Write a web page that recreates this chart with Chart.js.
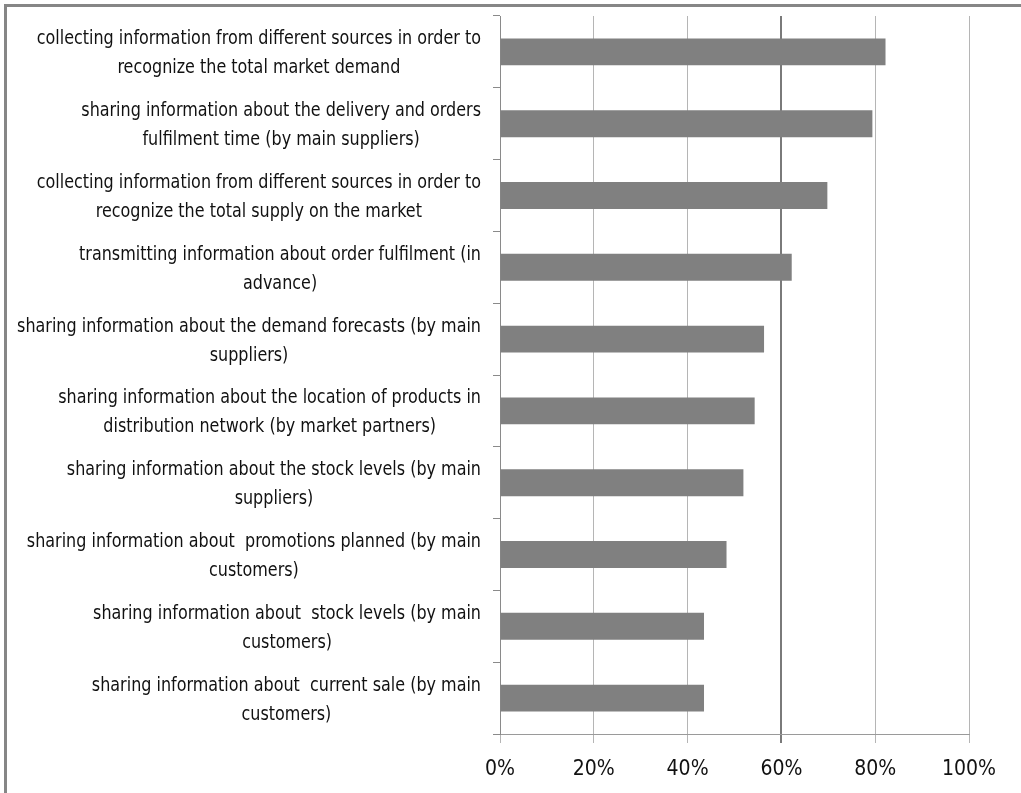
<!DOCTYPE html>
<html>
<head>
<meta charset="utf-8">
<script src="https://cdn.jsdelivr.net/npm/chart.js@4.4.1/dist/chart.umd.min.js"></script>
<style>
  html, body { margin: 0; padding: 0; background: #fff; }
  #wrap { position: relative; width: 1021px; height: 793px; }
  #frame { position: absolute; left: 4px; top: 4px; right: -10px; bottom: -10px;
           border-top: 3px solid #868686; border-left: 3px solid #868686; pointer-events: none; }
</style>
</head>
<body>
<div id="wrap">
  <canvas id="chart" width="1021" height="793"></canvas>
  <div id="frame"></div>
</div>
<script>
const labels = [
    ['collecting information from different sources in order to', 'recognize the total market demand'],
    ['sharing information about the delivery and orders', 'fulfilment time (by main suppliers)'],
    ['collecting information from different sources in order to', 'recognize the total supply on the market'],
    ['transmitting information about order fulfilment (in', 'advance)'],
    ['sharing information about the demand forecasts (by main', 'suppliers)'],
    ['sharing information about the location of products in', 'distribution network (by market partners)'],
    ['sharing information about the stock levels (by main', 'suppliers)'],
    ['sharing information about  promotions planned (by main', 'customers)'],
    ['sharing information about  stock levels (by main', 'customers)'],
    ['sharing information about  current sale (by main', 'customers)'],
];
const values = [82.2, 79.4, 69.8, 62.2, 56.3, 54.3, 51.9, 48.3, 43.5, 43.5];
const xMin = 0;
const xMax = 100;
const xStep = 20;

const FONT = '"Liberation Sans Narrow", "DejaVu Sans Condensed", Arial, sans-serif';
const SQUEEZE = 0.935; // the original text is a narrow face

// category labels: each block centred on itself, right edge against the axis
const centredLabels = {
    id: 'centredLabels',
    afterDraw: chart => {
        const ctx = chart.ctx;
        const yScale = chart.scales.y;
        const right = yScale.right - 19;
        ctx.save();
        ctx.font = '19px ' + FONT;
        ctx.fillStyle = '#111';
        ctx.textAlign = 'center';
        ctx.textBaseline = 'middle';
        labels.forEach((lines, i) => {
            const y = yScale.getPixelForValue(i) + 2;
            const w = Math.max(...lines.map(l => ctx.measureText(l).width)) * SQUEEZE;
            const cx = right - w / 2;
            const lh = 29;
            const y0 = y - (lines.length - 1) * lh / 2;
            lines.forEach((l, j) => {
                ctx.save();
                ctx.translate(cx, y0 + j * lh);
                ctx.scale(SQUEEZE, 1);
                ctx.fillText(l, 0, 0);
                ctx.restore();
            });
        });
        ctx.restore();
    }
};

const ctx = document.getElementById('chart').getContext('2d');
const chart = new Chart(ctx, {
    type: 'bar',
    data: {
        labels: labels,
        datasets: [{
            data: values,
            backgroundColor: '#808080',
            borderWidth: 0,
            categoryPercentage: 1,
            barPercentage: 0.375,
        }],
    },
    options: {
        indexAxis: 'y',
        responsive: false,
        animation: false,
        layout: { padding: { left: 0, right: 52, top: 16, bottom: 0 } },
        scales: {
            x: {
                min: xMin,
                max: xMax,
                ticks: {
                    stepSize: xStep,
                    callback: v => v + '%',
                    color: '#111',
                    font: { family: FONT, size: 21 },
                    padding: 14,
                    maxRotation: 0,
                },
                grid: {
                    color: c => c.tick && c.tick.value === 60 ? '#7a7a7a' : '#b5b5b5',
                    lineWidth: c => c.tick && c.tick.value === 60 ? 2 : 1,
                    tickLength: 9,
                },
                border: { color: '#9a9a9a', width: 1 },
                afterFit: s => { s.height = 59; },
            },
            y: {
                ticks: { display: false },
                grid: {
                    drawOnChartArea: false,
                    tickLength: 7,
                    color: '#8a8a8a',
                    offset: true,
                },
                border: { color: '#8a8a8a', width: 1 },
                afterFit: s => { s.width = 500; },
            },
        },
        plugins: {
            legend: { display: false },
            tooltip: { enabled: false },
        },
    },
    plugins: [centredLabels],
});
</script>
</body>
</html>
